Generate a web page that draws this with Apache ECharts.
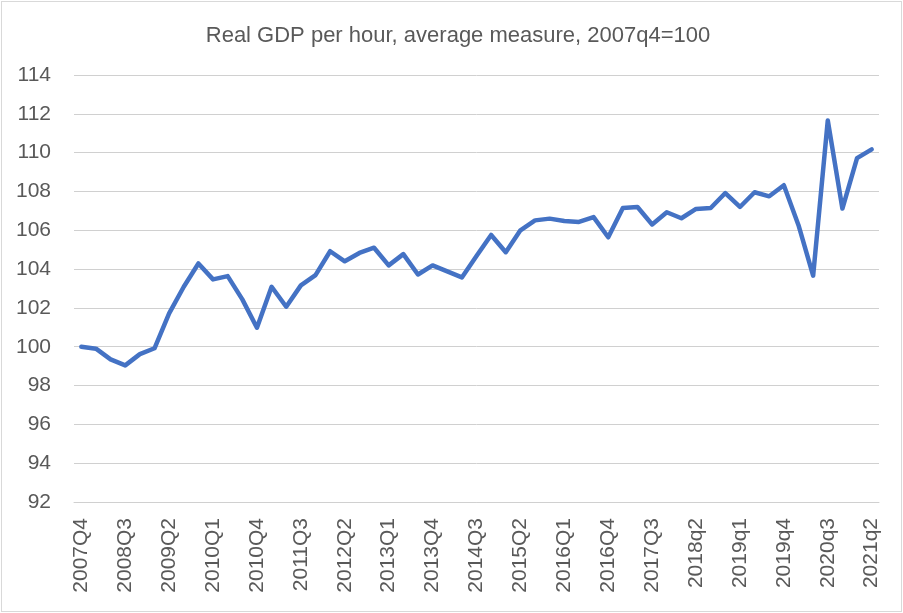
<!DOCTYPE html>
<html>
<head>
<meta charset="utf-8">
<script src="https://cdn.jsdelivr.net/npm/echarts@6/dist/echarts.min.js"></script>
<style>
  html, body { margin: 0; padding: 0; background: #fff; }
  #wrap { position: relative; width: 903px; height: 613px; }
  #chart { position: absolute; left: 0; top: 0; width: 903px; height: 613px; }
  #frame { position: absolute; left: 1px; top: 1px; width: 899px; height: 609px; border: 1px solid #d9d9d9; pointer-events: none; }
</style>
</head>
<body>
<div id="wrap"><div id="chart"></div><div id="frame"></div></div>
<script>
const categories = [
  "2007Q4",
  "2008Q1","2008Q2","2008Q3","2008Q4",
  "2009Q1","2009Q2","2009Q3","2009Q4",
  "2010Q1","2010Q2","2010Q3","2010Q4",
  "2011Q1","2011Q2","2011Q3","2011Q4",
  "2012Q1","2012Q2","2012Q3","2012Q4",
  "2013Q1","2013Q2","2013Q3","2013Q4",
  "2014Q1","2014Q2","2014Q3","2014Q4",
  "2015Q1","2015Q2","2015Q3","2015Q4",
  "2016Q1","2016Q2","2016Q3","2016Q4",
  "2017Q1","2017Q2","2017Q3","2017Q4",
  "2018q1","2018q2","2018q3","2018q4",
  "2019q1","2019q2","2019q3","2019q4",
  "2020q1","2020q2","2020q3","2020q4",
  "2021q1","2021q2"
];
const gdpPerHour = [
  100.0,
  99.9, 99.35, 99.04, 99.62,
  99.92, 101.72, 103.09, 104.29,
  103.47, 103.64, 102.44, 100.98,
  103.09, 102.06, 103.16, 103.69,
  104.92, 104.4, 104.83, 105.1,
  104.19, 104.77, 103.72, 104.19,
  103.88, 103.57, 104.67, 105.76,
  104.87, 106.0, 106.51, 106.6,
  106.48, 106.43, 106.68, 105.64,
  107.15, 107.2, 106.3, 106.93,
  106.62, 107.1, 107.15, 107.92,
  107.2, 107.96, 107.75, 108.32,
  106.26, 103.66, 111.66, 107.12,
  109.72, 110.17
];
const titleText = "Real GDP per hour, average measure, 2007q4=100";

const chart = echarts.init(document.getElementById('chart'));
chart.setOption({
  animation: false,
  backgroundColor: '#ffffff',
  title: {
    text: titleText,
    left: 453,
    textAlign: 'center',
    top: 20,
    textStyle: { fontFamily: 'Liberation Sans', fontSize: 22, fontWeight: 'normal', color: '#595959' }
  },
  grid: { left: 74, right: 24, top: 75, bottom: 111, containLabel: false },
  xAxis: {
    type: 'category',
    data: categories,
    boundaryGap: true,
    axisLine: { show: true, lineStyle: { color: '#d0d0d0', width: 1 } },
    axisTick: { show: false },
    axisLabel: {
      interval: 2,
      rotate: 90,
      margin: 16,
      fontFamily: 'Liberation Sans',
      fontSize: 21,
      color: '#595959'
    },
    splitLine: { show: false }
  },
  yAxis: {
    type: 'value',
    min: 92,
    max: 114,
    interval: 2,
    axisLine: { show: false },
    axisTick: { show: false },
    axisLabel: { margin: 23, fontFamily: 'Liberation Sans', fontSize: 21, color: '#595959' },
    splitLine: { show: true, lineStyle: { color: '#d0d0d0', width: 1 } }
  },
  series: [{
    type: 'line',
    data: gdpPerHour,
    showSymbol: false,
    symbol: 'none',
    lineStyle: { color: '#4472C4', width: 4.5, join: 'round', cap: 'round' },
    itemStyle: { color: '#4472C4' }
  }]
});
</script>
</body>
</html>
